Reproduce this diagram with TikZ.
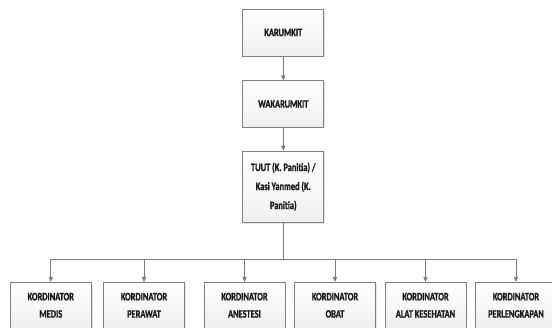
\documentclass[tikz,border=0pt]{standalone}
\usepackage{fontspec}
\setmainfont{Carlito}[FakeStretch=0.74, BoldFeatures={FakeBold=1.2}]
\usetikzlibrary{arrows.meta,shadows}
\definecolor{linegray}{HTML}{7A7A7A}
\definecolor{boxgray}{HTML}{7F7F7F}
\definecolor{txt}{HTML}{1A1A1A}
\tikzset{
  orgbox/.style={draw=boxgray, line width=0.75pt, top color=white, bottom color=gray!12,
    minimum width=81pt, inner sep=1pt, align=center, text=txt,
    font=\fontsize{11.3}{19}\selectfont\bfseries,
    drop shadow={shadow xshift=1.2pt, shadow yshift=-1.2pt, opacity=0.2, fill=gray}},
  lowbox/.style={orgbox, minimum height=46pt, font=\fontsize{11.3}{17.3}\selectfont\bfseries},
  conn/.style={draw=linegray, line width=0.75pt},
  arr/.style={conn, -{Triangle[length=5pt,width=4.2pt]}}
}
\begin{document}
\begin{tikzpicture}[x=1pt,y=-1pt]
\useasboundingbox (0,0) rectangle (552,327);
\begin{scope}
\clip (0,0) rectangle (552,327);
\node[orgbox, minimum height=47pt] (karu) at (283.3,32.5) {KARUMKIT};
\node[orgbox, minimum height=46.5pt] (waka) at (283.3,104) {WAKARUMKIT};
\node[orgbox, minimum height=71.3pt] (tuut) at (283.3,186.7) {TUUT (K. Panitia) /\\Kasi Yanmed (K.\\Panitia)};
\coordinate (bus) at (283.3,259);
\node[lowbox] (k1) at (50.8,305.3) {KORDINATOR\\MEDIS};
\node[lowbox] (k2) at (144,305.3) {KORDINATOR\\PERAWAT};
\node[lowbox] (k3) at (244.5,305.3) {KORDINATOR\\ANESTESI};
\node[lowbox] (k4) at (335,305.3) {KORDINATOR\\OBAT};
\node[lowbox] (k5) at (425.5,305.3) {KORDINATOR\\ALAT KESEHATAN};
\node[lowbox] (k6) at (516,305.3) {KORDINATOR\\PERLENGKAPAN};
\draw[arr] (karu.south) -- (waka.north);
\draw[arr] (waka.south) -- (tuut.north);
\draw[conn] (tuut.south) -- (bus);
\draw[conn] (k1 |- bus) -- (k6 |- bus);
\foreach \k in {k1,k2,k3,k4,k5,k6}{
  \draw[arr] (\k |- bus) -- (\k.north);
}
\end{scope}
\end{tikzpicture}
\end{document}
